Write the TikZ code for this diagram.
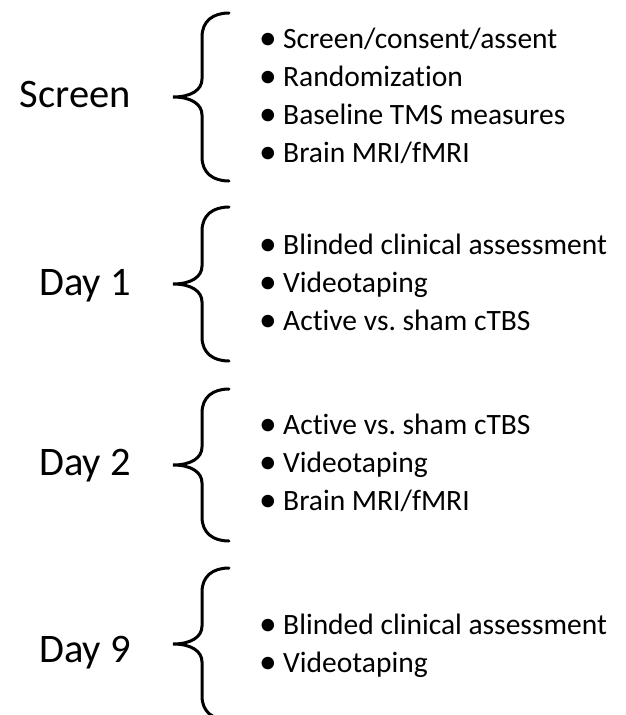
\documentclass[tikz,border=0pt]{standalone}
\usepackage{fontspec}
\setmainfont[Ligatures=NoCommon]{Carlito}
\usetikzlibrary{positioning}

% bullet item with a hanging gap
\newcommand{\itm}[1]{\makebox[24pt][l]{\raisebox{-1pt}{\scalebox{1.2}{\textbullet}}}#1}

\tikzset{
  bracket/.style={line width=3pt, line cap=round},
  daylabel/.style={anchor=base east, inner sep=0pt, font=\fontsize{40.5}{48}\selectfont},
  % base of a multi-line node is the baseline of its last line
  itemlist/.style={anchor=base west, inner sep=0pt, align=left, font=\fontsize{29.5}{38}\selectfont},
  % curly brace, tip at the pic origin, half height #1
  curly/.pic={
    \draw[bracket] (56,-#1) .. controls (40,-#1) and (29,-#1+8) .. (29,-#1+24)
      -- (29,-18) .. controls (29,-7) and (18,0) .. (0,0)
      .. controls (18,0) and (29,7) .. (29,18)
      -- (29,#1-24) .. controls (29,#1-8) and (40,#1) .. (56,#1);
  }
}

\begin{document}
\begin{tikzpicture}[x=1pt,y=-1pt]
  \useasboundingbox (0,0) rectangle (626,715);

  % braces
  \pic at (173,97) {curly=84};
  \pic at (173,284) {curly=77};
  \pic at (173,465) {curly=76};
  \pic at (173,644) {curly=76};

  % visit names
  \node[daylabel] (screen) at (131,107) {Screen};
  \node[daylabel] (day1) at (131,295) {Day 1};
  \node[daylabel] (day2) at (131,475) {Day 2};
  \node[daylabel] (day9) at (131,662) {Day 9};

  % what happens at each visit
  \node[itemlist] (screenlist) at (259,162) {\itm{Screen/consent/assent}\\
    \itm{Randomization}\\ \itm{Baseline TMS measures}\\ \itm{Brain MRI/fMRI}};
  \node[itemlist] (day1list) at (259,330) {\itm{Blinded clinical assessment}\\
    \itm{Videotaping}\\ \itm{Active vs.\ sham cTBS}};
  \node[itemlist] (day2list) at (259,510) {\itm{Active vs.\ sham cTBS}\\
    \itm{Videotaping}\\ \itm{Brain MRI/fMRI}};
  \node[itemlist] (day9list) at (259,672) {\itm{Blinded clinical assessment}\\
    \itm{Videotaping}};
\end{tikzpicture}
\end{document}
